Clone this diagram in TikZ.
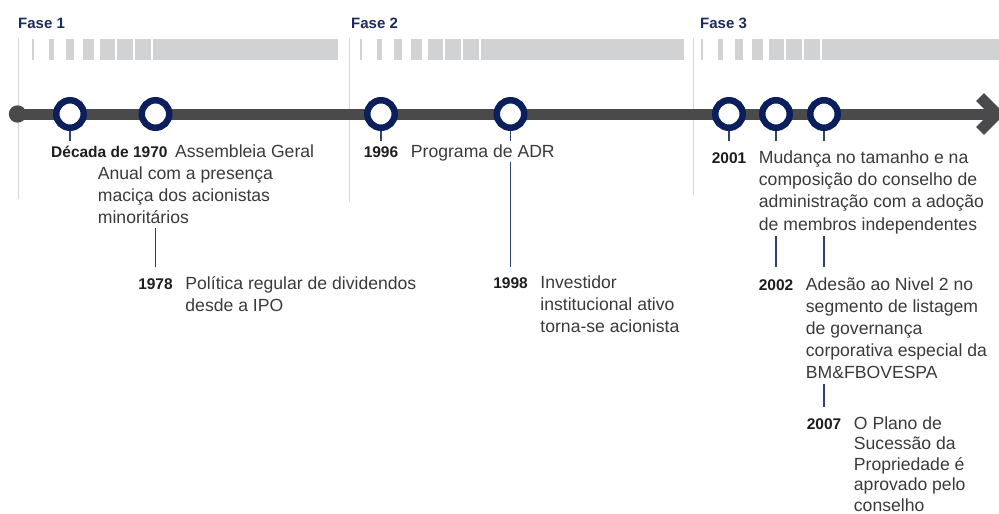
\documentclass[tikz,border=0pt]{standalone}
\usepackage{fontspec}
\setmainfont{Liberation Sans}
\definecolor{navy}{HTML}{0B1F5C}
\definecolor{barg}{HTML}{4A4A4C}
\definecolor{lightg}{HTML}{D1D2D4}
\definecolor{sepg}{HTML}{D6D6D6}
\definecolor{txt}{HTML}{3A3A3A}
\definecolor{yr}{HTML}{1E1E1E}
\definecolor{fasec}{HTML}{1A2B5E}
\begin{document}
\begin{tikzpicture}[x=1pt,y=-1pt,
  fase/.style={font=\fontsize{15}{18}\selectfont\bfseries, text=fasec, inner sep=0pt, anchor=base west},
  yearlbl/.style={font=\fontsize{15.5}{18}\selectfont\bfseries, text=yr, inner sep=0pt, anchor=base},
  body/.style={font=\fontsize{17.6}{22}\selectfont, text=txt, inner sep=0pt, anchor=base west, align=left},
  ring/.style={circle, draw=navy, line width=6.5pt, fill=white, minimum size=27.5pt, inner sep=0pt},
  link/.style={draw=navy!85, line width=1.1pt},
  sepline/.style={draw=sepg, line width=1pt},
  seg/.style={fill=lightg, draw=none},
  axis/.style={draw=barg, line width=11pt}
]
\useasboundingbox (0,0) rectangle (999,514);
% phase bars
\foreach \o/\e in {32/338,360/684,701/999}{
  \foreach \a/\b in {0/2.3,17/22.3,34/42,51/62,68/82.7,85.3/100.7,102.7/119.3}{
    \fill[seg] (\o+\a,39) rectangle (\o+\b,60);
  }
  \fill[seg] (\o+121.3,39) rectangle (\e,60);
}
% phase separators
\coordinate (p1t) at (18,38);   \coordinate (p1b) at (18,199);
\coordinate (p2t) at (349,38);  \coordinate (p2b) at (349,202);
\coordinate (p3t) at (693.5,38); \coordinate (p3b) at (693.5,195);
\draw[sepline] (p1t) -- (p1b);
\draw[sepline] (p2t) -- (p2b);
\draw[sepline] (p3t) -- (p3b);
% phase labels
\node[fase] (f1) at (18,28.3) {Fase 1};
\node[fase] (f2) at (351,28.3) {Fase 2};
\node[fase] (f3) at (700,28.3) {Fase 3};
% axis
\node[circle, fill=barg, minimum size=17.4pt, inner sep=0pt] (dot) at (17.5,114) {};
\coordinate (tip) at (997,114);
\coordinate (a1) at (980,97);
\coordinate (a2) at (980,131);
\draw[axis] (dot.center) -- (tip);
\draw[axis, miter limit=4] (a1) -- (tip) -- (a2);
% tick ends
\coordinate (k1) at (70,141);
\coordinate (k3) at (381,141);
\coordinate (k4) at (510.5,141);
\coordinate (k5) at (729,141);
\coordinate (k6) at (776,141);
\coordinate (k7) at (824,141);
% circles
\node[ring] (c1) at (70,114) {};
\node[ring] (c2) at (155.5,114) {};
\node[ring] (c3) at (381,114) {};
\node[ring] (c4) at (510.5,114) {};
\node[ring] (c5) at (729,114) {};
\node[ring] (c6) at (776,114) {};
\node[ring] (c7) at (824,114) {};
\foreach \i in {1,3,4,5,6,7}{\draw[link] (c\i.south) -- (k\i);}
% texts (multi-line nodes are anchored at the baseline of their last line)
\node[yearlbl, anchor=base west] (y1970) at (51,157) {Década de 1970};
\node[body] (b1970a) at (175,157) {Assembleia Geral};
\node[body] (b1970b) at (97.7,223) {Anual com a presença\\maciça dos acionistas\\minoritários};

\node[yearlbl] (y1978) at (155.5,289) {1978};
\node[body] (b1978) at ([xshift=12.3pt,yshift=-22pt]y1978.base east) {Política regular de dividendos\\desde a IPO};

\node[yearlbl] (y1996) at (381,157) {1996};
\node[body] (b1996) at ([xshift=12.3pt]y1996.base east) {Programa de ADR};

\node[yearlbl] (y1998) at (510.5,288.5) {1998};
\node[body] (b1998) at ([xshift=12.3pt,yshift=-44pt]y1998.base east) {Investidor\\institucional ativo\\torna-se acionista};

\node[yearlbl] (y2001) at (729,163) {2001};
\node[body, font=\fontsize{17.6}{22.4}\selectfont] (b2001) at ([xshift=12.3pt,yshift=-67.2pt]y2001.base east) {Mudança no tamanho e na\\composição do conselho de\\administração com a adoção\\de membros independentes};

\node[yearlbl] (y2002) at (776,290.5) {2002};
\node[body] (b2002) at ([xshift=12.3pt,yshift=-88pt]y2002.base east) {Adesão ao Nivel 2 no\\segmento de listagem\\de governança\\corporativa especial da\\BM\&FBOVESPA};

\node[yearlbl] (y2007) at (824,429) {2007};
\node[body, font=\fontsize{17.6}{20.5}\selectfont] (b2007) at ([xshift=12.3pt,yshift=-82pt]y2007.base east) {O Plano de\\Sucessão da\\Propriedade é\\aprovado pelo\\conselho};

% links between levels
\coordinate (s1978) at (155.5,228);  \coordinate (e1978) at (155.5,267);
\coordinate (s1998) at (510.5,162);  \coordinate (e1998) at (510.5,267);
\coordinate (s2002) at (776,236);    \coordinate (e2002) at (776,267);
\coordinate (s2007a) at (824,236);   \coordinate (e2007a) at (824,267);
\coordinate (s2007b) at (824,384);   \coordinate (e2007b) at (824,407);
\draw[link] (s1978) -- (e1978);
\draw[link] (s1998) -- (e1998);
\draw[link] (s2002) -- (e2002);
\draw[link] (s2007a) -- (e2007a);
\draw[link] (s2007b) -- (e2007b);
\end{tikzpicture}
\end{document}
